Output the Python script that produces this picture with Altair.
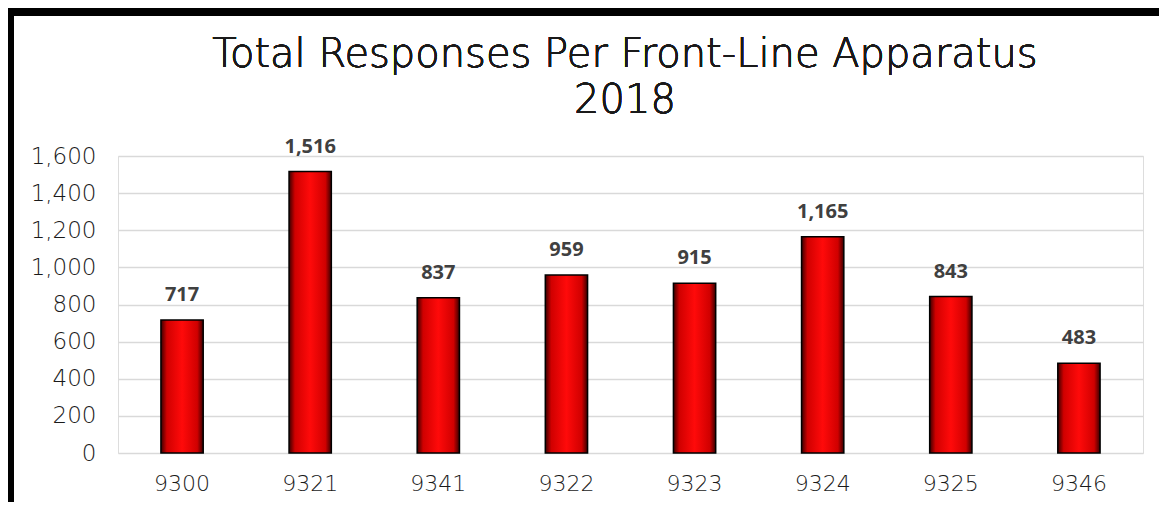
import altair as alt
import pandas as pd

units = ["9300", "9321", "9341", "9322", "9323", "9324", "9325", "9346"]
responses = [717, 1516, 837, 959, 915, 1165, 843, 483]
y_ticks = [0, 200, 400, 600, 800, 1000, 1200, 1400, 1600]
title_line1 = "Total Responses Per Front-Line Apparatus"
title_line2 = "2018"

df = pd.DataFrame({"unit": units, "responses": responses})

W, H = 1025, 297
PL, PT, PR, PB = 110, 148, 16, 49

grad = alt.Gradient(
    gradient="linear",
    stops=[
        alt.GradientStop(color="#3a0000", offset=0),
        alt.GradientStop(color="#d00000", offset=0.14),
        alt.GradientStop(color="#ff0a0a", offset=0.5),
        alt.GradientStop(color="#d00000", offset=0.86),
        alt.GradientStop(color="#3a0000", offset=1),
    ],
    x1=0, x2=1, y1=0, y2=0,
)

FONT = "DejaVu Sans"

x = alt.X("unit:N", sort=units, title=None,
          scale=alt.Scale(paddingInner=0.67, paddingOuter=0.335),
          axis=alt.Axis(labelAngle=0, labelFont=FONT, labelFontSize=22, labelFontWeight=300,
                        labelColor="#1a1a1a", labelPadding=20, ticks=False, domain=False))
y = alt.Y("responses:Q", title=None,
          scale=alt.Scale(domain=[0, 1600], nice=False),
          axis=alt.Axis(values=y_ticks, format=",.0f", labelFont=FONT, labelFontSize=23,
                        labelFontWeight=300,
                        labelColor="#1a1a1a", labelPadding=22, ticks=False, domain=False,
                        labelOverlap=False, labelBaseline="middle",
                        gridColor="#d9d9d9", gridWidth=1.5))

bars = alt.Chart(df).mark_bar(color=grad, stroke="#000000", strokeWidth=1.5).encode(x=x, y=y)

labels = alt.Chart(df).mark_text(baseline="alphabetic", dy=-19, font="Open Sans", fontWeight="bold",
                                 fontSize=20, color="#404040").encode(
    x=x, y=y, text=alt.Text("responses:Q", format=",.0f"))

title1 = alt.Chart(df).mark_text(font=FONT, fontSize=40, fontWeight=300, color="#1a1a1a",
                                 baseline="alphabetic", align="center", text=title_line1).encode(
    x=alt.value(625 - 8 - PL), y=alt.value(67 - 8 - PT))
title2 = alt.Chart(df).mark_text(font=FONT, fontSize=40, fontWeight=300, color="#1a1a1a",
                                 baseline="alphabetic", align="center", text=title_line2).encode(
    x=alt.value(625 - 8 - PL), y=alt.value(113 - 8 - PT))

border_left = alt.Chart(df).mark_rule(color="black", strokeWidth=6).encode(
    x=alt.value(-PL + 3), y=alt.value(-PT), y2=alt.value(H + PB))
border_top = alt.Chart(df).mark_rule(color="black", strokeWidth=9).encode(
    x=alt.value(-PL), x2=alt.value(W + PR), y=alt.value(-PT + 3.5))

chart = alt.layer(bars, labels, title1, title2, border_left, border_top).properties(
    width=W, height=H,
    autosize=alt.AutoSizeParams(type="none"),
    padding={"left": PL, "top": PT, "right": PR, "bottom": PB},
).configure_view(stroke="transparent", strokeWidth=0).configure(background="white")

chart.save("out.html", embed_options={"renderer": "svg", "actions": False})
